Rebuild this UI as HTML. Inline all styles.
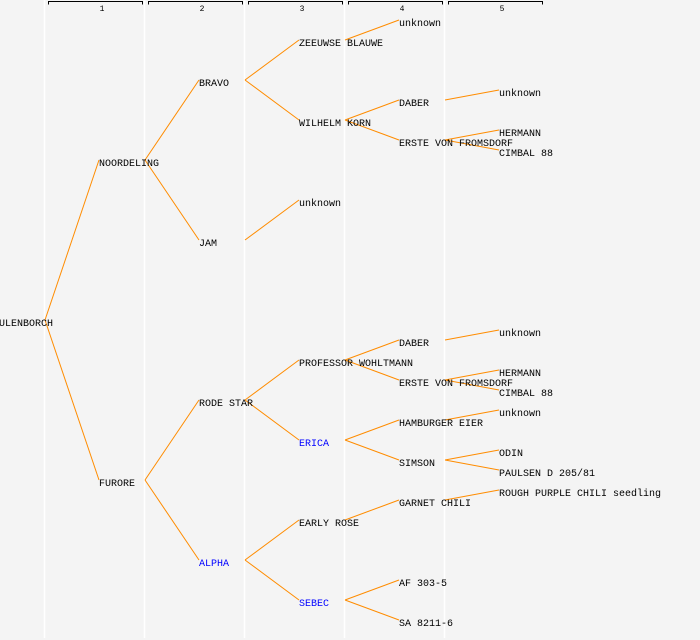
<!DOCTYPE html>
<html><head><meta charset="utf-8"><style>
html,body{margin:0;padding:0;background:#f4f4f4;}
svg{display:block;}
text{font-family:"Liberation Mono",monospace;font-size:10px;fill:#000;}
.b{fill:#0000ff;}
.h{font-size:8px;text-anchor:middle;}
line.e{stroke:#ff8c00;stroke-width:1;}
line.s{stroke:#ffffff;stroke-width:1.5;}
</style></head><body>
<svg width="700" height="640" viewBox="0 0 700 640">
<rect width="700" height="640" fill="#f4f4f4"/>
<g>
<line class="s" x1="44.5" y1="0" x2="44.5" y2="638"/>
<line class="s" x1="144.5" y1="0" x2="144.5" y2="638"/>
<line class="s" x1="244.5" y1="0" x2="244.5" y2="638"/>
<line class="s" x1="344.5" y1="0" x2="344.5" y2="638"/>
<line class="s" x1="444.5" y1="0" x2="444.5" y2="638"/>
</g>
<g stroke="#000" fill="none" stroke-width="1">
<path d="M48.5 4.5V1.5H142.5V4.5"/>
<path d="M148.5 4.5V1.5H242.5V4.5"/>
<path d="M248.5 4.5V1.5H342.5V4.5"/>
<path d="M348.5 4.5V1.5H442.5V4.5"/>
<path d="M448.5 4.5V1.5H542.5V4.5"/>
</g>
<text class="h" x="102" y="11">1</text>
<text class="h" x="202" y="11">2</text>
<text class="h" x="302" y="11">3</text>
<text class="h" x="402" y="11">4</text>
<text class="h" x="502" y="11">5</text>
<g>
<line class="e" x1="45" y1="320" x2="99" y2="160"/>
<line class="e" x1="45" y1="320" x2="99" y2="480"/>
<line class="e" x1="145" y1="160" x2="199" y2="80"/>
<line class="e" x1="145" y1="160" x2="199" y2="240"/>
<line class="e" x1="145" y1="480" x2="199" y2="400"/>
<line class="e" x1="145" y1="480" x2="199" y2="560"/>
<line class="e" x1="245" y1="80" x2="299" y2="40"/>
<line class="e" x1="245" y1="80" x2="299" y2="120"/>
<line class="e" x1="245" y1="240" x2="299" y2="200"/>
<line class="e" x1="245" y1="400" x2="299" y2="360"/>
<line class="e" x1="245" y1="400" x2="299" y2="440"/>
<line class="e" x1="245" y1="560" x2="299" y2="520"/>
<line class="e" x1="245" y1="560" x2="299" y2="600"/>
<line class="e" x1="345" y1="40" x2="399" y2="20"/>
<line class="e" x1="345" y1="120" x2="399" y2="100"/>
<line class="e" x1="345" y1="120" x2="399" y2="140"/>
<line class="e" x1="345" y1="360" x2="399" y2="340"/>
<line class="e" x1="345" y1="360" x2="399" y2="380"/>
<line class="e" x1="345" y1="440" x2="399" y2="420"/>
<line class="e" x1="345" y1="440" x2="399" y2="460"/>
<line class="e" x1="345" y1="520" x2="399" y2="500"/>
<line class="e" x1="345" y1="600" x2="399" y2="580"/>
<line class="e" x1="345" y1="600" x2="399" y2="620"/>
<line class="e" x1="445" y1="100" x2="499" y2="90"/>
<line class="e" x1="445" y1="140" x2="499" y2="130"/>
<line class="e" x1="445" y1="140" x2="499" y2="150"/>
<line class="e" x1="445" y1="340" x2="499" y2="330"/>
<line class="e" x1="445" y1="380" x2="499" y2="370"/>
<line class="e" x1="445" y1="380" x2="499" y2="390"/>
<line class="e" x1="445" y1="420" x2="499" y2="410"/>
<line class="e" x1="445" y1="460" x2="499" y2="450"/>
<line class="e" x1="445" y1="460" x2="499" y2="470"/>
<line class="e" x1="445" y1="500" x2="499" y2="490"/>
</g>
<g>
<text x="-1" y="326">ULENBORCH</text>
<text x="99" y="166">NOORDELING</text>
<text x="99" y="486">FURORE</text>
<text x="199" y="86">BRAVO</text>
<text x="199" y="246">JAM</text>
<text x="199" y="406">RODE STAR</text>
<text class="b" x="199" y="566">ALPHA</text>
<text x="299" y="46">ZEEUWSE BLAUWE</text>
<text x="299" y="126">WILHELM KORN</text>
<text x="299" y="206">unknown</text>
<text x="299" y="366">PROFESSOR WOHLTMANN</text>
<text class="b" x="299" y="446">ERICA</text>
<text x="299" y="526">EARLY ROSE</text>
<text class="b" x="299" y="606">SEBEC</text>
<text x="399" y="26">unknown</text>
<text x="399" y="106">DABER</text>
<text x="399" y="146">ERSTE VON FROMSDORF</text>
<text x="399" y="346">DABER</text>
<text x="399" y="386">ERSTE VON FROMSDORF</text>
<text x="399" y="426">HAMBURGER EIER</text>
<text x="399" y="466">SIMSON</text>
<text x="399" y="506">GARNET CHILI</text>
<text x="399" y="586">AF 303-5</text>
<text x="399" y="626">SA 8211-6</text>
<text x="499" y="96">unknown</text>
<text x="499" y="136">HERMANN</text>
<text x="499" y="156">CIMBAL 88</text>
<text x="499" y="336">unknown</text>
<text x="499" y="376">HERMANN</text>
<text x="499" y="396">CIMBAL 88</text>
<text x="499" y="416">unknown</text>
<text x="499" y="456">ODIN</text>
<text x="499" y="476">PAULSEN D 205/81</text>
<text x="499" y="496">ROUGH PURPLE CHILI seedling</text>
</g>
</svg>
</body></html>
